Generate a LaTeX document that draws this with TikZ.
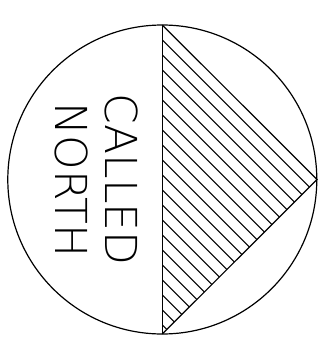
\documentclass[tikz,border=0pt]{standalone}
\usepackage{fontspec}
\setmainfont{DejaVu Sans ExtraLight}
\usepackage{tikz}
\usetikzlibrary{calc}
\tikzset{
  rim/.style={draw=black, line width=1.2pt},
  hatchline/.style={draw=black, line width=1.1pt},
  tag/.style={inner sep=0pt, font=\fontsize{44}{48}\selectfont, rotate=-90},
}
\begin{document}
\begin{tikzpicture}[x=1pt, y=-1pt]
  \useasboundingbox (0,0) rectangle (323,346);
  \coordinate (mid) at (162.3,179.5);
  \coordinate (top) at (162.3,25);
  \coordinate (tip) at (317,179.5);
  \coordinate (bot) at (162.3,334);
  % hatching inside the triangle
  \begin{scope}
    \clip (top) -- (tip) -- (bot) -- cycle;
    \foreach \k in {1,...,21} \draw[hatchline] ($(top)+(0,15*\k)$) -- ++(200,200);
  \end{scope}
  \draw[rim] (mid) circle (154.5);
  \draw[rim] (top) -- (tip) -- (bot);
  \draw[rim] (top) -- (bot);
  \node[tag] (called) at (122,179.5) {CALLED};
  \node[tag] (north) at (72,180) {NORTH};
\end{tikzpicture}
\end{document}
